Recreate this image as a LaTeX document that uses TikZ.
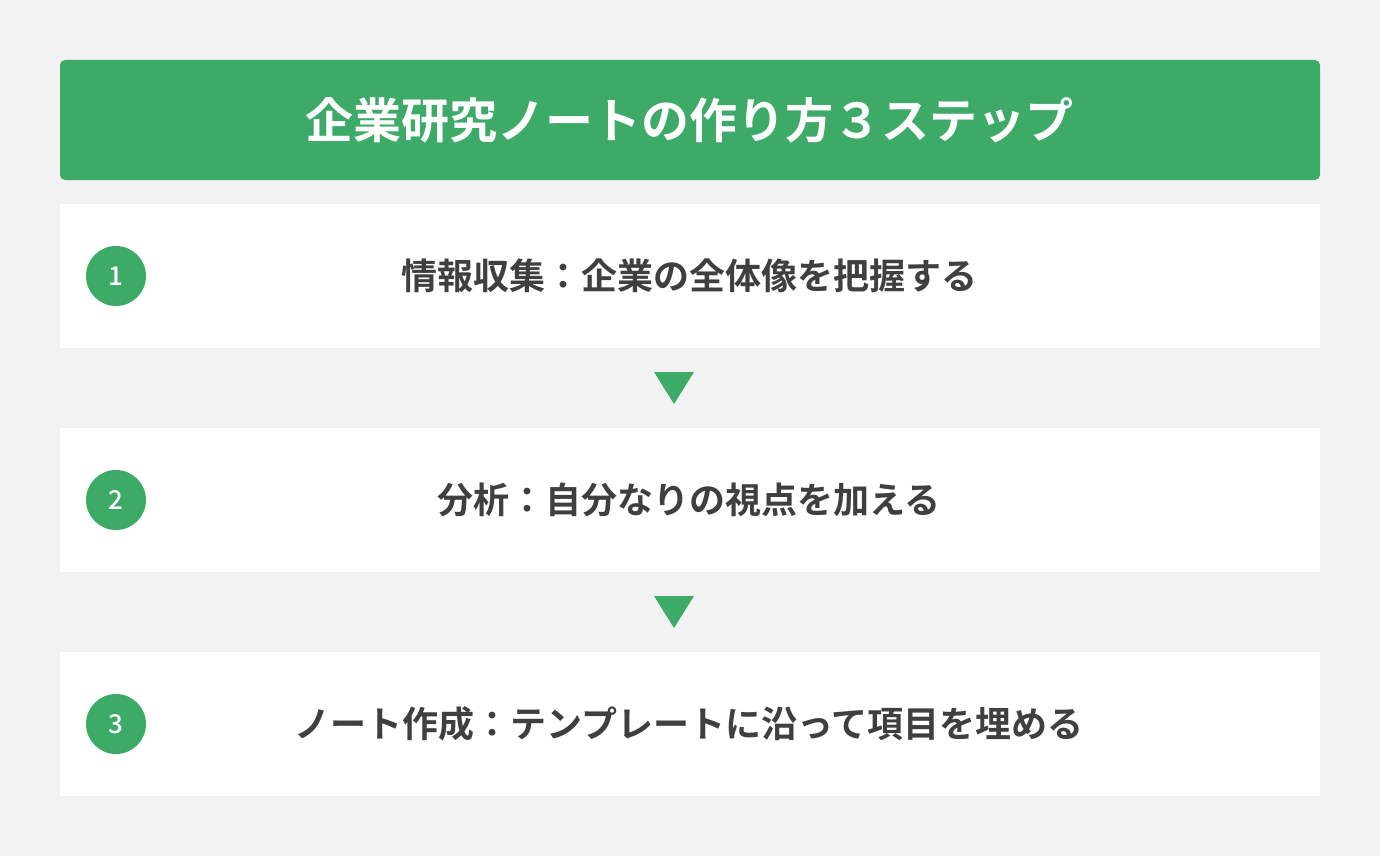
\documentclass[tikz,border=0pt]{standalone}
\usepackage{fontspec}
\newfontfamily\jpbold{Noto Sans CJK JP Bold}
\newfontfamily\jpmed{Noto Sans CJK JP Medium}
\definecolor{bgc}{HTML}{F2F2F2}
\definecolor{grn}{RGB}{61,170,103}
\definecolor{txt}{HTML}{3F3F3F}
\tikzset{
  stepbox/.style={fill=white, draw=none},
  numdot/.style={circle, fill=grn, minimum size=60pt, inner sep=0pt, text=white, font=\jpmed\fontsize{26pt}{26pt}\selectfont},
  steptext/.style={text=txt, font=\jpbold\fontsize{36pt}{36pt}\selectfont, inner sep=0pt},
  downtri/.style={fill=grn, draw=none}
}
\begin{document}
\begin{tikzpicture}[x=1pt,y=-1pt]
\useasboundingbox (0,0) rectangle (1380,856);
\fill[bgc] (0,0) rectangle (1380,856);
% header
\fill[grn, rounded corners=5pt] (60,60) rectangle (1320,180);
\node[text=white, font=\jpbold\fontsize{48pt}{48pt}\selectfont, inner sep=0pt] (title) at (689,120) {企業研究ノートの作り方３ステップ};
% boxes
\fill[stepbox] (60,204) rectangle (1320,348);
\coordinate (b1) at (689,276);
\fill[stepbox] (60,428) rectangle (1320,572);
\coordinate (b2) at (689,500);
\fill[stepbox] (60,652) rectangle (1320,796);
\coordinate (b3) at (689,724);
\node[numdot] (n1) at (116,276) {1};
\node[numdot] (n2) at (116,500) {2};
\node[numdot] (n3) at (116,724) {3};
\node[steptext] (t1) at (b1) {情報収集：企業の全体像を把握する};
\node[steptext] (t2) at (b2) {分析：自分なりの視点を加える};
\node[steptext] (t3) at (b3) {ノート作成：テンプレートに沿って項目を埋める};
% arrows
\fill[downtri] (654,372) -- (694,372) -- (674,404) -- cycle;
\fill[downtri] (654,596) -- (694,596) -- (674,628) -- cycle;
\end{tikzpicture}
\end{document}
